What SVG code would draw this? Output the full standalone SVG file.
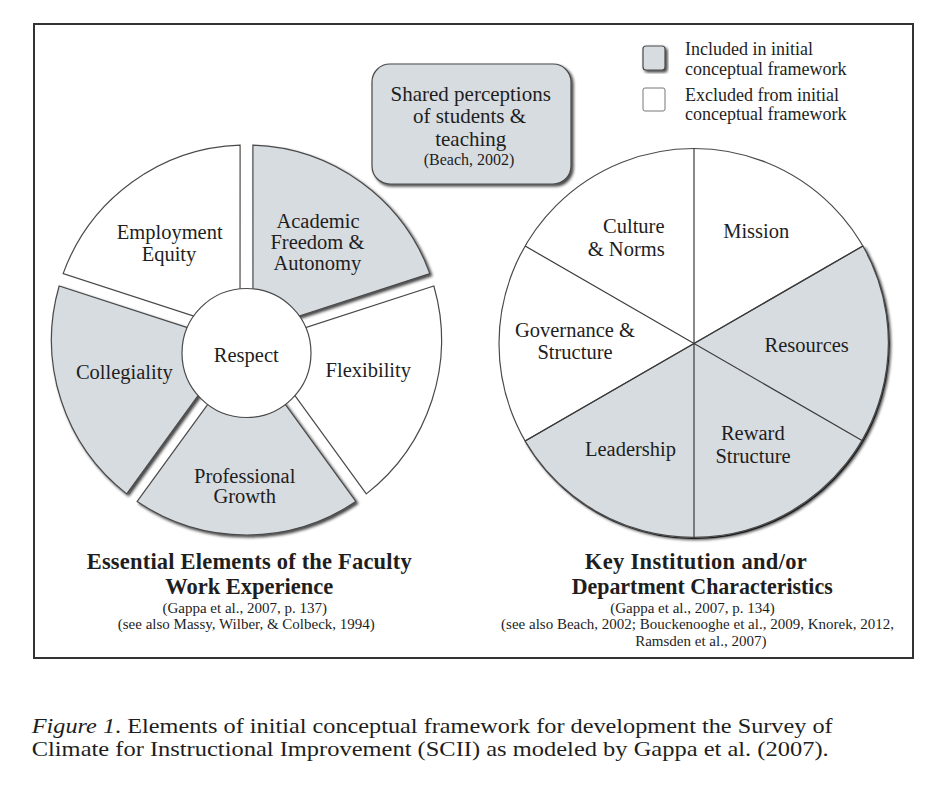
<svg xmlns="http://www.w3.org/2000/svg" width="936" height="789" viewBox="0 0 936 789">
<defs>
<filter id="sh" x="-10%" y="-10%" width="125%" height="125%">
<feGaussianBlur in="SourceAlpha" stdDeviation="1.6"/>
<feOffset dx="1.5" dy="1.5" result="b"/>
<feComponentTransfer><feFuncA type="linear" slope="0.75"/></feComponentTransfer>
<feMerge><feMergeNode/><feMergeNode in="SourceGraphic"/></feMerge>
</filter>
<style>
.t{font-family:"Liberation Serif","Times New Roman",serif;fill:#1e1e1e;text-anchor:middle}
.l{font-size:20.5px}
.s{font-size:15px}
.b{font-size:22.5px;font-weight:bold}
.g{fill:#d7dce1;stroke:#4a4a4a;stroke-width:1.2}
.w{fill:#ffffff;stroke:#4a4a4a;stroke-width:1.2}
.ln{stroke:#3a3a3a;stroke-width:1.2;fill:none}
</style>
</defs>
<rect x="0" y="0" width="936" height="789" fill="#ffffff"/>
<rect id="frame" x="34" y="24" width="879" height="634" fill="none" stroke="#333" stroke-width="2"/>

<g id="legend">
<rect x="643" y="46" width="22" height="24" rx="3" class="g" filter="url(#sh)"/>
<rect x="643" y="88" width="22" height="23" rx="2" fill="#fff" stroke="#777" stroke-width="1"/>
<g class="t" style="text-anchor:start;font-size:18px">
<text x="685" y="55">Included in initial</text>
<text x="685" y="74.5">conceptual framework</text>
<text x="685" y="100.5">Excluded from initial</text>
<text x="685" y="119.5">conceptual framework</text>
</g>
</g>

<g id="shared">
<rect x="372" y="64" width="199" height="120" rx="18" class="g" filter="url(#sh)"/>
<g class="t" style="font-size:21px">
<text x="470.7" y="100.5">Shared perceptions</text>
<text x="469.5" y="123">of students &amp;</text>
<text x="470.8" y="145.5">teaching</text>
</g>
<text class="t" x="469" y="165" style="font-size:16px">(Beach, 2002)</text>
</g>

<g id="faculty-wheel">
<g id="academic"><path class="g" filter="url(#sh)" d="M253,331.05 L429.85,273.6 A195,195 0 0 0 252.9,145.11 Z"/>
<text class="t l" x="318" y="228.3">Academic</text><text class="t l" x="317.4" y="249">Freedom &amp;</text><text class="t l" x="317.4" y="270">Autonomy</text></g>
<g id="employment"><path class="w" d="M240,331.05 L240.1,145.11 A195,195 0 0 0 63.15,273.6 Z"/>
<text class="t l" x="169.7" y="239.3">Employment</text><text class="t l" x="169" y="260.7">Equity</text></g>
<g id="collegiality"><path class="g" filter="url(#sh)" d="M235.98,343.42 L59.15,285.96 A195,195 0 0 0 126.7,493.86 Z"/>
<text class="t l" x="124.3" y="379.3">Collegiality</text></g>
<g id="growth"><path class="g" filter="url(#sh)" d="M246.5,351.06 L137.18,501.47 A195,195 0 0 0 355.82,501.47 Z"/>
<text class="t l" x="244.7" y="482.7">Professional</text><text class="t l" x="244.7" y="503.3">Growth</text></g>
<g id="flexibility"><path class="w" d="M257.02,343.42 L366.3,493.86 A195,195 0 0 0 433.85,285.96 Z"/>
<text class="t l" x="368.3" y="376.7">Flexibility</text></g>
<g id="respect"><circle cx="246.5" cy="353" r="64.5" class="w"/>
<text class="t l" x="246.3" y="361.7">Respect</text></g>
</g>

<g id="institution-pie">
<circle cx="694" cy="343.5" r="195" class="w"/>
<path class="g" filter="url(#sh)" d="M694,343.5 L862.87,246 A195,195 0 0 1 525.13,441 Z"/>
<g id="dividers">
<line class="ln" x1="694" y1="148.5" x2="694" y2="538.5"/>
<line class="ln" x1="525.13" y1="246" x2="862.87" y2="441"/>
<line class="ln" x1="862.87" y1="246" x2="525.13" y2="441" stroke-width="1.6"/>
</g>
<g id="culture"><text class="t l" x="633.8" y="232.7">Culture</text><text class="t l" x="626.2" y="255.7">&amp; Norms</text></g>
<g id="mission"><text class="t l" x="756.2" y="238.3">Mission</text></g>
<g id="governance"><text class="t l" x="575" y="336.7">Governance &amp;</text><text class="t l" x="575" y="359.3">Structure</text></g>
<g id="resources"><text class="t l" x="806.7" y="352.3">Resources</text></g>
<g id="reward"><text class="t l" x="752.8" y="440">Reward</text><text class="t l" x="753" y="462.7">Structure</text></g>
<g id="leadership"><text class="t l" x="630.5" y="456">Leadership</text></g>
</g>

<g id="titles">
<text class="t b" x="249.2" y="569.3" textLength="325" lengthAdjust="spacing">Essential Elements of the Faculty</text>
<text class="t b" x="249.2" y="594.3">Work Experience</text>
<text class="t s" x="244.7" y="612.7">(Gappa et al., 2007, p. 137)</text>
<text class="t s" x="246.3" y="629.3">(see also Massy, Wilber, &amp; Colbeck, 1994)</text>
<text class="t b" x="695.8" y="569.3" textLength="222" lengthAdjust="spacing">Key Institution and/or</text>
<text class="t b" x="702.2" y="594.3" textLength="261" lengthAdjust="spacingAndGlyphs">Department Characteristics</text>
<text class="t s" x="692.5" y="612.7">(Gappa et al., 2007, p. 134)</text>
<text class="t s" x="697.5" y="629.3">(see also Beach, 2002; Bouckenooghe et al., 2009, Knorek, 2012,</text>
<text class="t s" x="700.8" y="646">Ramsden et al., 2007)</text>
</g>

<g id="caption" style="font-family:'Liberation Serif','Times New Roman',serif;font-size:21px;fill:#1e1e1e">
<text x="31.7" y="733.3" textLength="801" lengthAdjust="spacingAndGlyphs"><tspan font-style="italic">Figure 1</tspan>. Elements of initial conceptual framework for development the Survey of</text>
<text x="31.7" y="755.5" textLength="797" lengthAdjust="spacingAndGlyphs">Climate for Instructional Improvement (SCII) as modeled by Gappa et al. (2007).</text>
</g>
</svg>
